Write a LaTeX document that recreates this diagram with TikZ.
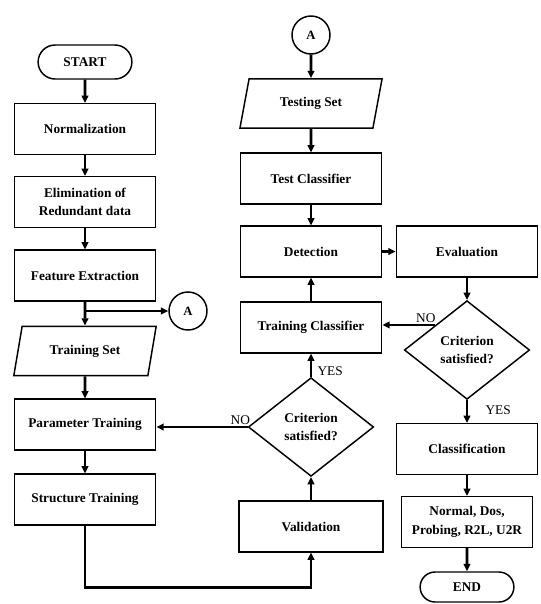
\documentclass[tikz,border=0pt]{standalone}
\usepackage{fontspec}
\setmainfont{Liberation Serif}
\usetikzlibrary{shapes.geometric,shapes.misc,arrows.meta}

\begin{document}
\begin{tikzpicture}[x=0.75pt, y=-0.75pt,
    boite/.style={draw, line width=1.1pt, minimum width=106pt, minimum height=38pt, align=center, font=\fontsize{10}{14}\selectfont\bfseries},
    terminal/.style={boite, rounded rectangle, minimum width=77pt, minimum height=25.5pt},
    donnees/.style={boite, trapezium, trapezium left angle=76, trapezium right angle=104, trapezium stretches=true, minimum width=107pt, minimum height=37pt},
    test/.style={boite, diamond, minimum width=94pt, minimum height=74pt, inner sep=0pt},
    renvoi/.style={boite, circle, minimum size=28.5pt, inner sep=0pt, font=\fontsize{9.5}{10}\selectfont\bfseries},
    fleche/.style={line width=1.9pt, -{Triangle[length=5.5pt, width=5pt]}},
    etiq/.style={font=\fontsize{10}{12}\selectfont, inner sep=1pt}]
    \useasboundingbox (0,0) rectangle (541,604);

    % Colonne de gauche
    \node[terminal] (start) at (85,62) {START};
    \node[boite] (norm) at (85,129) {Normalization};
    \node[boite] (elim) at (85,202) {Elimination of\\Redundant data};
    \node[boite] (feat) at (85,275.5) {Feature Extraction};
    \node[renvoi] (renvoiA) at (188,311) {A};
    \node[donnees] (trainset) at (85,351) {Training Set};
    \node[boite] (param) at (85,424.5) {Parameter Training};
    \node[boite] (struct) at (85,499.5) {Structure Training};

    % Colonne du milieu
    \node[renvoi] (renvoiB) at (311,35) {A};
    \node[donnees] (testset) at (311,103.5) {Testing Set};
    \node[boite] (testcl) at (311,178.5) {Test Classifier};
    \node[boite] (detect) at (311,251.5) {Detection};
    \node[boite] (traincl) at (311,327.5) {Training Classifier};
    \node[test] (crit1) at (311,427) {Criterion\\satisfied?};
    \node[boite, minimum width=108pt] (valid) at (311,526.5) {Validation};

    % Colonne de droite
    \node[boite] (eval) at (467,251.5) {Evaluation};
    \node[test] (crit2) at (467,350) {Criterion\\satisfied?};
    \node[boite] (classif) at (467,449) {Classification};
    \node[boite, minimum width=98pt] (attaques) at (467,522) {Normal, Dos,\\Probing, R2L, U2R};
    \node[terminal, minimum height=22.5pt] (fin) at (467,587) {END};

    % Fleches de gauche
    \draw[fleche] (start) -- (norm);
    \draw[fleche] (norm) -- (elim);
    \draw[fleche] (elim) -- (feat);
    \draw[fleche] (feat) -- (trainset);
    \coordinate (split) at (feat.south |- renvoiA);
    \draw[fleche] (split) -- (renvoiA);
    \draw[fleche] (trainset) -- (param);
    \draw[fleche] (param) -- (struct);
    \draw[fleche] (struct.south) -- ++(0,62) -| (valid.south);

    % Fleches du milieu
    \draw[fleche] (valid) -- (crit1);
    \draw[fleche] (crit1) -- node[etiq, pos=0.25, right, xshift=3pt] (oui1) {YES} (traincl);
    \draw[fleche] (crit1.west) -- node[etiq, pos=0.08, above] (non1) {NO} (crit1.west -| param.east);
    \draw[fleche] (traincl) -- (detect);
    \draw[fleche] (renvoiB) -- (testset);
    \draw[fleche] (testset) -- (testcl);
    \draw[fleche] (testcl) -- (detect);
    \draw[fleche] (detect) -- (eval);

    % Fleches de droite
    \draw[fleche] (eval) -- (crit2);
    \draw[fleche] (crit2.north west) -- node[etiq, pos=0.18, above] (non2) {NO} (crit2.north west -| traincl.east);
    \draw[fleche] (crit2) -- node[etiq, pos=0.46, right, xshift=12pt] (oui2) {YES} (classif);
    \draw[fleche] (classif) -- (attaques);
    \draw[fleche] (attaques) -- (fin);
\end{tikzpicture}
\end{document}
